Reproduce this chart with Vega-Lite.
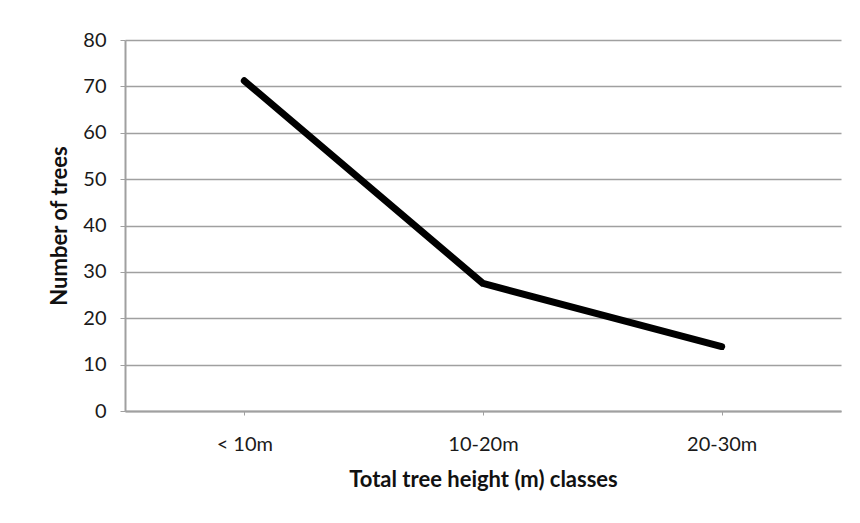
{
  "$schema": "https://vega.github.io/schema/vega-lite/v6.json",
  "width": 716,
  "height": 371,
  "autosize": {"type": "none"},
  "padding": {"left": 125, "top": 40, "right": 19, "bottom": 112},
  "background": "white",
  "data": {
    "values": [
      {"class": "< 10m", "trees": 71.2},
      {"class": "10-20m", "trees": 27.5},
      {"class": "20-30m", "trees": 13.9}
    ]
  },
  "mark": {"type": "line", "color": "black", "strokeWidth": 7, "strokeCap": "round", "strokeJoin": "round"},
  "encoding": {
    "x": {
      "field": "class",
      "type": "ordinal",
      "sort": null,
      "scale": {"type": "point", "padding": 0.5},
      "axis": {
        "title": "Total tree height (m) classes",
        "labelAngle": 0,
        "labelFont": "Lato",
        "labelFontSize": 20,
        "labelColor": "#1a1a1a",
        "labelPadding": 19,
        "titleFont": "Lato",
        "titleFontSize": 22,
        "titleFontWeight": "bold",
        "titleColor": "#111111",
        "titlePadding": 15,
        "domainColor": "#a0a0a0",
        "domainWidth": 2,
        "tickColor": "#a0a0a0",
        "tickSize": 4,
        "grid": false
      }
    },
    "y": {
      "field": "trees",
      "type": "quantitative",
      "scale": {"domain": [0, 80], "nice": false},
      "axis": {
        "title": "Number of trees",
        "values": [0, 10, 20, 30, 40, 50, 60, 70, 80],
        "labelFont": "Lato",
        "labelFontSize": 20,
        "labelColor": "#1a1a1a",
        "labelPadding": 14,
        "titleFont": "Lato",
        "titleFontSize": 22,
        "titleFontWeight": "bold",
        "titleColor": "#111111",
        "titlePadding": 11,
        "domainColor": "#a0a0a0",
        "domainWidth": 2,
        "tickColor": "#a0a0a0",
        "tickSize": 5,
        "grid": true,
        "gridColor": "#a0a0a0",
        "gridWidth": 1.5,
        "gridOpacity": 1
      }
    }
  },
  "config": {"view": {"stroke": null}}
}
